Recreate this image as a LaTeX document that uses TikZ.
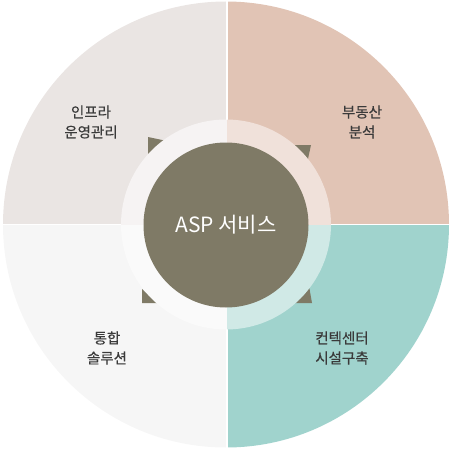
\documentclass[tikz,border=0pt]{standalone}
\usepackage{fontspec}
\setmainfont{Noto Sans CJK KR}
\newfontfamily\quadfont[FakeBold=0.4]{Noto Sans CJK KR}
\usetikzlibrary{positioning}
\definecolor{infraFill}{RGB}{234,229,227}
\definecolor{estateFill}{RGB}{225,196,181}
\definecolor{callFill}{RGB}{160,211,205}
\definecolor{solFill}{RGB}{246,246,246}
\definecolor{coreFill}{RGB}{127,122,102}
\definecolor{quadText}{RGB}{58,58,58}

\begin{document}
\begin{tikzpicture}[
	x=1pt, y=-1pt,
	quadtext/.style={text=quadText, align=center, inner sep=0pt,
		font=\quadfont\fontsize{14.5}{20}\selectfont},
	core/.style={circle, fill=coreFill, minimum size=165pt, inner sep=0pt,
		text=white, font=\fontsize{21}{24}\selectfont},
	tip/.style={fill=coreFill},
	]
	\useasboundingbox (0,0) rectangle (452,452);
	
	% outer quadrants
	\begin{scope}
	\clip (226,224.5) circle[radius=223];
	\fill[infraFill] (0,0) rectangle (226,224);
	\fill[estateFill] (228,0) rectangle (452,224);
	\fill[callFill] (228,225) rectangle (452,452);
	\fill[solFill] (0,225) rectangle (226,452);
	\end{scope}
	
	\node [quadtext] (infra) at (91,122) {인프라\\운영관리};
	\node [quadtext] (estate) at (362,122) {부동산\\분석};
	\node [quadtext] (callcenter) at (342,348) {컨텍센터\\시설구축};
	\node [quadtext] (solution) at (107,348) {통합\\솔루션};
	
	% arrow tips behind the ring
	\fill[tip] (148,137) -- (167,141) -- (148,161) -- cycle;
	\fill[tip] (290,145) -- (311,145) -- (306,168) -- cycle;
	\fill[tip] (312,303) -- (309,286) -- (292,303) -- cycle;
	\fill[tip] (142,289) -- (142,303) -- (157,303) -- cycle;
	
	% ring
	\begin{scope}
	\clip (226,224.5) circle[radius=105];
	\fill[infraFill!45!white] (0,0) rectangle (227,224.5);
	\fill[estateFill!50!white] (227,0) rectangle (452,224.5);
	\fill[callFill!50!white] (227,224.5) rectangle (452,452);
	\fill[solFill!50!white] (0,224.5) rectangle (227,452);
	\end{scope}
	
	\node [core] (asp) at (226,225) {ASP 서비스};
\end{tikzpicture}
\end{document}
